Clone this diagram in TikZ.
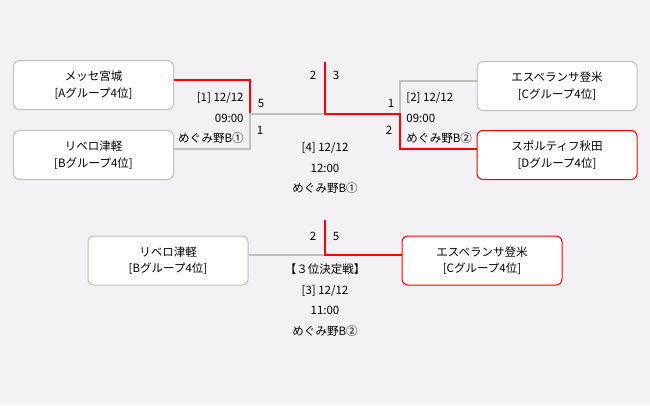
\documentclass[tikz,border=0pt]{standalone}
\usepackage{fontspec}
\setmainfont{Noto Sans CJK JP}
\usepackage{xcolor}
\usetikzlibrary{positioning,calc}
\definecolor{bg}{HTML}{F3F1F5}
\definecolor{win}{HTML}{FF0000}
\definecolor{lose}{HTML}{C0C0C0}

\begin{document}
\begin{tikzpicture}[x=1pt,y=-1pt,thick,font=\fontsize{11.5}{13}\selectfont]
\tikzstyle{team} = [draw = lose, fill = white, rounded corners = 6pt, line width = 1pt, minimum width = 160pt, minimum height = 49pt, align = center, font = \fontsize{11.5}{16.5}\selectfont]
\tikzstyle{winner} = [team, draw = win]
\tikzstyle{lost} = [draw = lose, line width = 2pt]
\tikzstyle{won} = [draw = win, line width = 2pt]
\tikzstyle{info} = [inner sep = 0pt, font = \fontsize{11.5}{20.5}\selectfont]

\useasboundingbox[fill = bg] (0,0) rectangle (650,405);

% teams
\node[team]    (1) at (93.5,85)   {メッセ宮城\\{}[Aグループ4位]};
\node[team]    (2) at (93.5,155)  {リベロ津軽\\{}[Bグループ4位]};
\node[team]    (3) at (557,86)    {エスペランサ登米\\{}[Cグループ4位]};
\node[winner]  (4) at (557,155)   {スポルティフ秋田\\{}[Dグループ4位]};
\node[team]    (5) at (168,260.5) {リベロ津軽\\{}[Bグループ4位]};
\node[winner]  (6) at (482,260.5) {エスペランサ登米\\{}[Cグループ4位]};

% joints
\coordinate (q1)  at (250,114);
\coordinate (q2)  at (400,114);
\coordinate (mid) at (325,114);
\coordinate (top) at (325,62);
\coordinate (fm)  at (325,254);
\coordinate (ft)  at (325,220);

\draw[won]  ([yshift=5pt]1.east) -| (q1);
\draw[lost] ([yshift=6pt]2.east) -| (q1) -- (mid);
\draw[lost] ([yshift=5pt]3.west) -| (q2);
\draw[won]  ([yshift=6pt]4.west) -| (q2) -- (mid) -- (top);
\draw[lost] ([yshift=6pt]5.east) -| (fm);
\draw[won]  ([yshift=6pt]6.west) -| (fm) -- (ft);

% scores
\node (s1) at (261,103) {5};
\node (s2) at (260,130) {1};
\node (s3) at (313,75)  {2};
\node (s4) at (336,75)  {3};
\node (s5) at (391,103) {1};
\node (s6) at (389,130) {2};
\node (s7) at (313,236) {2};
\node (s8) at (336,236) {5};

% matches
\node[info, align = right, anchor = east]  (m1) at (244,118) {[1] 12/12\\09:00\\めぐみ野B①};
\node[info, align = left, anchor = west]   (m2) at (406,118) {[2] 12/12\\09:00\\めぐみ野B②};
\node[info, align = center]                (m4) at (325,168) {[4] 12/12\\12:00\\めぐみ野B①};
\node[info, align = center]                (m3) at (325,300) {【３位決定戦】\\{}[3] 12/12\\11:00\\めぐみ野B②};
\end{tikzpicture}
\end{document}
